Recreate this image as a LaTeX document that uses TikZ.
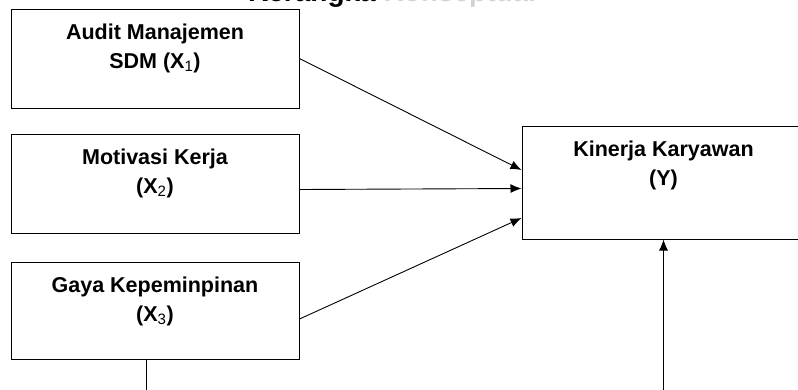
\documentclass[tikz,border=0pt]{standalone}
\usepackage{fontspec}
\setmainfont{Liberation Sans}
\usetikzlibrary{arrows.meta, positioning, calc}

\begin{document}
\begin{tikzpicture}[x=1pt, y=-1pt,
  box/.style = {draw, line width=1pt, minimum width=288pt, minimum height=99pt, inner sep=0pt},
  boxtext/.style = {align=center, inner sep=0pt, font=\fontsize{21.5}{29}\selectfont\bfseries},
  arrow/.style = {-{Latex[length=11pt, width=9pt]}, line width=0.9pt}
]
\useasboundingbox (0,0) rectangle (798,389);
\clip (0,0) rectangle (798,389);
\node[anchor=base west, inner sep=0pt, font=\fontsize{28}{32}\selectfont\bfseries] (title) at (248,1) {Kerangka \textcolor{gray!35}{Konseptual}};
\node[box] (x1) at (155,58.5) {};
\node[box] (x2) at (155,183.5) {};
\node[box, minimum height=97pt] (x3) at (155,310.5) {};
\node[box, minimum width=283pt, minimum height=113pt] (y) at (663.5,182.5) {};
\node[boxtext, below=15pt of x1.north] (x1_text) {Audit Manajemen\\SDM (X\textsubscript{\mdseries 1})};
\node[boxtext, below=15pt of x2.north] (x2_text) {Motivasi Kerja\\(X\textsubscript{\mdseries 2})};
\node[boxtext, below=15pt of x3.north] (x3_text) {Gaya Kepeminpinan\\(X\textsubscript{\mdseries 3})};
\node[boxtext, below=15pt of y.north] (y_text) {Kinerja Karyawan\\(Y)};
\coordinate (x3_down) at (x3.south |- 0,400);
\coordinate (y_up) at (y.south |- 0,400);
\draw[arrow] (x1.east) -- ([yshift=12.5pt]y.west);
\draw[arrow] ([yshift=-6pt]x2.east) -- ([yshift=-6pt]y.west);
\draw[arrow] ([yshift=-8.5pt]x3.east) -- ([yshift=-35.5pt]y.west);
\draw[line width=0.9pt] ([xshift=-9pt]x3.south) -- ([xshift=-9pt]x3_down);
\draw[arrow] (y_up) -- (y.south);
\end{tikzpicture}
\end{document}
